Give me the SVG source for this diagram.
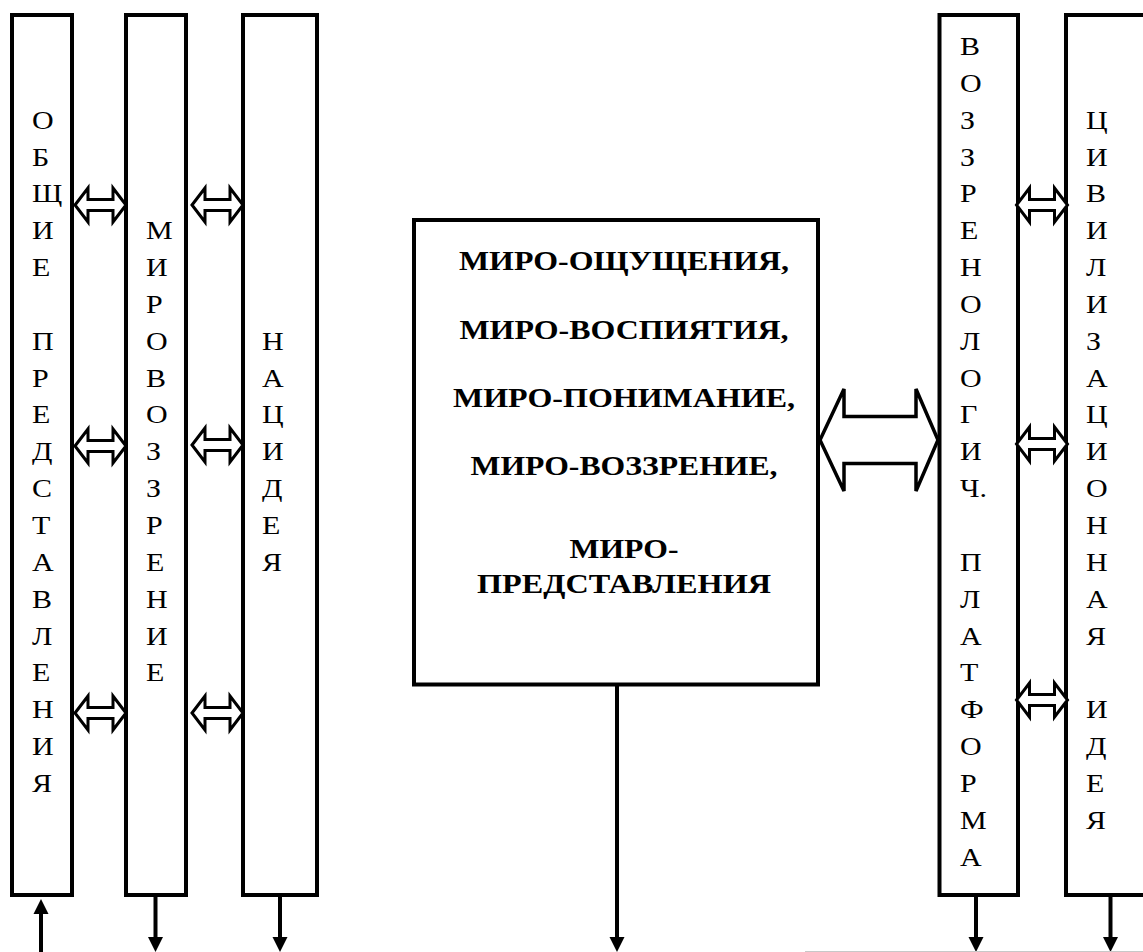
<svg xmlns="http://www.w3.org/2000/svg" width="1143" height="952" viewBox="0 0 1143 952">
<style>
.box{fill:#fff;stroke:#000;stroke-width:4}
.ln{stroke:#000;stroke-width:4;fill:none}
.big{fill:#fff;stroke:#000;stroke-width:3.5}
</style>
<defs>
<marker id="ah" viewBox="0 -8 16 16" refX="1" refY="0" markerWidth="16" markerHeight="16" markerUnits="userSpaceOnUse" orient="auto">
<path d="M0,-7.5 L15,0 L0,7.5 Z" fill="#000"/>
</marker>
<path id="dblArrow" d="M0,0 L13,-17 L13,-5.5 L38,-5.5 L38,-17 L51,0 L38,17 L38,5.5 L13,5.5 L13,17 Z" fill="#fff" stroke="#000" stroke-width="3"/>
</defs>
<rect width="1143" height="952" fill="#fff"/>

<g id="node-obshchie">
<rect class="box" x="12" y="15" width="60" height="880"/>
<g transform="translate(32 0) scale(1.2 1)" font-family="Liberation Serif, Times New Roman, Tinos, serif" font-size="25">
<text x="0" y="128.7" font-family="Liberation Serif, Times New Roman, Tinos, serif">О</text>
<text x="0" y="165.6" font-family="Liberation Serif, Times New Roman, Tinos, serif">Б</text>
<text x="0" y="202.4" font-family="Liberation Serif, Times New Roman, Tinos, serif">Щ</text>
<text x="0" y="239.3" font-family="Liberation Serif, Times New Roman, Tinos, serif">И</text>
<text x="0" y="276.1" font-family="Liberation Serif, Times New Roman, Tinos, serif">Е</text>
<text x="0" y="349.8" font-family="Liberation Serif, Times New Roman, Tinos, serif">П</text>
<text x="0" y="386.7" font-family="Liberation Serif, Times New Roman, Tinos, serif">Р</text>
<text x="0" y="423.5" font-family="Liberation Serif, Times New Roman, Tinos, serif">Е</text>
<text x="0" y="460.4" font-family="Liberation Serif, Times New Roman, Tinos, serif">Д</text>
<text x="0" y="497.2" font-family="Liberation Serif, Times New Roman, Tinos, serif">С</text>
<text x="0" y="534.1" font-family="Liberation Serif, Times New Roman, Tinos, serif">Т</text>
<text x="0" y="570.9" font-family="Liberation Serif, Times New Roman, Tinos, serif">А</text>
<text x="0" y="607.8" font-family="Liberation Serif, Times New Roman, Tinos, serif">В</text>
<text x="0" y="644.6" font-family="Liberation Serif, Times New Roman, Tinos, serif">Л</text>
<text x="0" y="681.5" font-family="Liberation Serif, Times New Roman, Tinos, serif">Е</text>
<text x="0" y="718.3" font-family="Liberation Serif, Times New Roman, Tinos, serif">Н</text>
<text x="0" y="755.2" font-family="Liberation Serif, Times New Roman, Tinos, serif">И</text>
<text x="0" y="792" font-family="Liberation Serif, Times New Roman, Tinos, serif">Я</text>
</g>
</g>

<g id="node-mirovozzrenie">
<rect class="box" x="126" y="15" width="60" height="880"/>
<g transform="translate(146 0) scale(1.2 1)" font-family="Liberation Serif, Times New Roman, Tinos, serif" font-size="25">
<text x="0" y="239.3" font-family="Liberation Serif, Times New Roman, Tinos, serif">М</text>
<text x="0" y="276.1" font-family="Liberation Serif, Times New Roman, Tinos, serif">И</text>
<text x="0" y="313" font-family="Liberation Serif, Times New Roman, Tinos, serif">Р</text>
<text x="0" y="349.8" font-family="Liberation Serif, Times New Roman, Tinos, serif">О</text>
<text x="0" y="386.7" font-family="Liberation Serif, Times New Roman, Tinos, serif">В</text>
<text x="0" y="423.5" font-family="Liberation Serif, Times New Roman, Tinos, serif">О</text>
<text x="0" y="460.4" font-family="Liberation Serif, Times New Roman, Tinos, serif">З</text>
<text x="0" y="497.2" font-family="Liberation Serif, Times New Roman, Tinos, serif">З</text>
<text x="0" y="534.1" font-family="Liberation Serif, Times New Roman, Tinos, serif">Р</text>
<text x="0" y="570.9" font-family="Liberation Serif, Times New Roman, Tinos, serif">Е</text>
<text x="0" y="607.8" font-family="Liberation Serif, Times New Roman, Tinos, serif">Н</text>
<text x="0" y="644.6" font-family="Liberation Serif, Times New Roman, Tinos, serif">И</text>
<text x="0" y="681.5" font-family="Liberation Serif, Times New Roman, Tinos, serif">Е</text>
</g>
</g>

<g id="node-nacideya">
<rect class="box" x="243" y="15" width="74" height="880"/>
<g transform="translate(262 0) scale(1.2 1)" font-family="Liberation Serif, Times New Roman, Tinos, serif" font-size="25">
<text x="0" y="349.8" font-family="Liberation Serif, Times New Roman, Tinos, serif">Н</text>
<text x="0" y="386.7" font-family="Liberation Serif, Times New Roman, Tinos, serif">А</text>
<text x="0" y="423.5" font-family="Liberation Serif, Times New Roman, Tinos, serif">Ц</text>
<text x="0" y="460.4" font-family="Liberation Serif, Times New Roman, Tinos, serif">И</text>
<text x="0" y="497.2" font-family="Liberation Serif, Times New Roman, Tinos, serif">Д</text>
<text x="0" y="534.1" font-family="Liberation Serif, Times New Roman, Tinos, serif">Е</text>
<text x="0" y="570.9" font-family="Liberation Serif, Times New Roman, Tinos, serif">Я</text>
</g>
</g>

<g id="node-center">
<rect class="box" x="414" y="220" width="404" height="464.5"/>
<g font-family="Liberation Serif, Times New Roman, Tinos, serif" font-size="27.5" font-weight="bold" text-anchor="middle">
<text x="624" y="270" font-family="Liberation Serif, Times New Roman, Tinos, serif" textLength="330" lengthAdjust="spacingAndGlyphs">МИРО-ОЩУЩЕНИЯ,</text>
<text x="624" y="339" font-family="Liberation Serif, Times New Roman, Tinos, serif" textLength="329" lengthAdjust="spacingAndGlyphs">МИРО-ВОСПИЯТИЯ,</text>
<text x="624" y="407" font-family="Liberation Serif, Times New Roman, Tinos, serif" textLength="342" lengthAdjust="spacingAndGlyphs">МИРО-ПОНИМАНИЕ,</text>
<text x="624" y="475" font-family="Liberation Serif, Times New Roman, Tinos, serif" textLength="307" lengthAdjust="spacingAndGlyphs">МИРО-ВОЗЗРЕНИЕ,</text>
<text x="624" y="558" font-family="Liberation Serif, Times New Roman, Tinos, serif" textLength="109" lengthAdjust="spacingAndGlyphs">МИРО-</text>
<text x="624" y="593" font-family="Liberation Serif, Times New Roman, Tinos, serif" textLength="294" lengthAdjust="spacingAndGlyphs">ПРЕДСТАВЛЕНИЯ</text>
</g>
</g>

<g id="node-vozzrenologich">
<rect class="box" x="939.5" y="15" width="78.5" height="880"/>
<g transform="translate(960 0) scale(1.2 1)" font-family="Liberation Serif, Times New Roman, Tinos, serif" font-size="25">
<text x="0" y="55" font-family="Liberation Serif, Times New Roman, Tinos, serif">В</text>
<text x="0" y="91.9" font-family="Liberation Serif, Times New Roman, Tinos, serif">О</text>
<text x="0" y="128.7" font-family="Liberation Serif, Times New Roman, Tinos, serif">З</text>
<text x="0" y="165.6" font-family="Liberation Serif, Times New Roman, Tinos, serif">З</text>
<text x="0" y="202.4" font-family="Liberation Serif, Times New Roman, Tinos, serif">Р</text>
<text x="0" y="239.3" font-family="Liberation Serif, Times New Roman, Tinos, serif">Е</text>
<text x="0" y="276.1" font-family="Liberation Serif, Times New Roman, Tinos, serif">Н</text>
<text x="0" y="313" font-family="Liberation Serif, Times New Roman, Tinos, serif">О</text>
<text x="0" y="349.8" font-family="Liberation Serif, Times New Roman, Tinos, serif">Л</text>
<text x="0" y="386.7" font-family="Liberation Serif, Times New Roman, Tinos, serif">О</text>
<text x="0" y="423.5" font-family="Liberation Serif, Times New Roman, Tinos, serif">Г</text>
<text x="0" y="460.4" font-family="Liberation Serif, Times New Roman, Tinos, serif">И</text>
<text x="0" y="497.2" font-family="Liberation Serif, Times New Roman, Tinos, serif">Ч.</text>
<text x="0" y="570.9" font-family="Liberation Serif, Times New Roman, Tinos, serif">П</text>
<text x="0" y="607.8" font-family="Liberation Serif, Times New Roman, Tinos, serif">Л</text>
<text x="0" y="644.6" font-family="Liberation Serif, Times New Roman, Tinos, serif">А</text>
<text x="0" y="681.5" font-family="Liberation Serif, Times New Roman, Tinos, serif">Т</text>
<text x="0" y="718.3" font-family="Liberation Serif, Times New Roman, Tinos, serif">Ф</text>
<text x="0" y="755.2" font-family="Liberation Serif, Times New Roman, Tinos, serif">О</text>
<text x="0" y="792" font-family="Liberation Serif, Times New Roman, Tinos, serif">Р</text>
<text x="0" y="828.9" font-family="Liberation Serif, Times New Roman, Tinos, serif">М</text>
<text x="0" y="865.7" font-family="Liberation Serif, Times New Roman, Tinos, serif">А</text>
</g>
</g>

<g id="node-civilizacionnaya">
<rect class="box" x="1066" y="15" width="82" height="880"/>
<g transform="translate(1086 0) scale(1.2 1)" font-family="Liberation Serif, Times New Roman, Tinos, serif" font-size="25">
<text x="0" y="128.7" font-family="Liberation Serif, Times New Roman, Tinos, serif">Ц</text>
<text x="0" y="165.6" font-family="Liberation Serif, Times New Roman, Tinos, serif">И</text>
<text x="0" y="202.4" font-family="Liberation Serif, Times New Roman, Tinos, serif">В</text>
<text x="0" y="239.3" font-family="Liberation Serif, Times New Roman, Tinos, serif">И</text>
<text x="0" y="276.1" font-family="Liberation Serif, Times New Roman, Tinos, serif">Л</text>
<text x="0" y="313" font-family="Liberation Serif, Times New Roman, Tinos, serif">И</text>
<text x="0" y="349.8" font-family="Liberation Serif, Times New Roman, Tinos, serif">З</text>
<text x="0" y="386.7" font-family="Liberation Serif, Times New Roman, Tinos, serif">А</text>
<text x="0" y="423.5" font-family="Liberation Serif, Times New Roman, Tinos, serif">Ц</text>
<text x="0" y="460.4" font-family="Liberation Serif, Times New Roman, Tinos, serif">И</text>
<text x="0" y="497.2" font-family="Liberation Serif, Times New Roman, Tinos, serif">О</text>
<text x="0" y="534.1" font-family="Liberation Serif, Times New Roman, Tinos, serif">Н</text>
<text x="0" y="570.9" font-family="Liberation Serif, Times New Roman, Tinos, serif">Н</text>
<text x="0" y="607.8" font-family="Liberation Serif, Times New Roman, Tinos, serif">А</text>
<text x="0" y="644.6" font-family="Liberation Serif, Times New Roman, Tinos, serif">Я</text>
<text x="0" y="718.3" font-family="Liberation Serif, Times New Roman, Tinos, serif">И</text>
<text x="0" y="755.2" font-family="Liberation Serif, Times New Roman, Tinos, serif">Д</text>
<text x="0" y="792" font-family="Liberation Serif, Times New Roman, Tinos, serif">Е</text>
<text x="0" y="828.9" font-family="Liberation Serif, Times New Roman, Tinos, serif">Я</text>
</g>
</g>

<g id="connectors">
<use href="#dblArrow" x="75" y="205"/>
<use href="#dblArrow" x="75" y="446"/>
<use href="#dblArrow" x="75" y="713"/>
<use href="#dblArrow" x="192" y="205"/>
<use href="#dblArrow" x="192" y="445"/>
<use href="#dblArrow" x="192" y="713"/>
<use href="#dblArrow" x="1016.5" y="205"/>
<use href="#dblArrow" x="1016.5" y="444"/>
<use href="#dblArrow" x="1016.5" y="700"/>
<path class="big" d="M820,440 L844,389 L844,416.5 L916,416.5 L916,389 L938,440 L916,491 L916,463.5 L844,463.5 L844,491 Z"/>
<line class="ln" x1="41" y1="952" x2="41" y2="913" marker-end="url(#ah)"/>
<line class="ln" x1="155.5" y1="897" x2="155.5" y2="938" marker-end="url(#ah)"/>
<line class="ln" x1="280" y1="897" x2="280" y2="938" marker-end="url(#ah)"/>
<line class="ln" x1="617" y1="686" x2="617" y2="938" marker-end="url(#ah)"/>
<line class="ln" x1="976" y1="897" x2="976" y2="938" marker-end="url(#ah)"/>
<line class="ln" x1="1110.5" y1="897" x2="1110.5" y2="938" marker-end="url(#ah)"/>
<line x1="805" y1="951.5" x2="1143" y2="951.5" stroke="#c8c8c8" stroke-width="1"/>
</g>
</svg>
